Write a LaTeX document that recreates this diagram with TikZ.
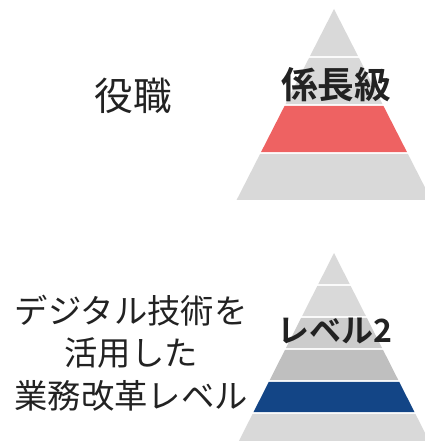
\documentclass[tikz,border=0pt]{standalone}
\usepackage{fontspec}
\newfontfamily\jpfont{Noto Sans CJK JP}
\newfontfamily\jpbold{Noto Sans CJK JP Bold}
\definecolor{pgray}{HTML}{D9D9D9}
\definecolor{pgrayb}{HTML}{CCCCCC}
\definecolor{pgrayc}{HTML}{BFBFBF}
\definecolor{pred}{HTML}{EE6262}
\definecolor{pblue}{HTML}{134586}
\definecolor{ptext}{HTML}{222222}
\newcommand{\pyrband}[6]{\fill[#6] ({#1-#3*(#4-#2)},#4) -- ({#1+#3*(#4-#2)},#4) -- ({#1+#3*(#5-#2)},#5) -- ({#1-#3*(#5-#2)},#5) -- cycle;}
\begin{document}
\begin{tikzpicture}[x=0.75pt,y=-0.75pt,
  lefttext/.style={text=ptext,font=\jpfont\fontsize{25pt}{32pt}\selectfont,align=center,inner sep=0pt},
  boldtitle/.style={text=ptext,inner sep=0pt}]
\useasboundingbox (0,0) rectangle (424,441);
% top pyramid: apex (334,9), slope 0.51
\pyrband{334}{9}{0.51}{9}{56.2}{pgray}
\pyrband{334}{9}{0.51}{57.8}{104.2}{pgray}
\pyrband{334}{9}{0.51}{105.8}{152.2}{pred}
\pyrband{334}{9}{0.51}{153.8}{200}{pgray}
% bottom pyramid: apex (334,253), slope 0.506
\pyrband{334}{253}{0.506}{253}{284.2}{pgray}
\pyrband{334}{253}{0.506}{285.8}{316.2}{pgray}
\pyrband{334}{253}{0.506}{317.8}{348.2}{pgrayb}
\pyrband{334}{253}{0.506}{349.8}{380.2}{pgrayc}
\pyrband{334}{253}{0.506}{381.8}{412.2}{pblue}
\pyrband{334}{253}{0.506}{413.8}{445}{pgray}
\node[boldtitle,font=\jpbold\fontsize{27.5pt}{30pt}\selectfont] (t1) at (336,85) {係長級};
\node[boldtitle,font=\jpbold\fontsize{24pt}{28pt}\selectfont] (t2) at (335,331) {レベル2};
\node[lefttext,font=\jpfont\fontsize{29pt}{32pt}\selectfont] (l1) at (133,96) {役職};
\node[lefttext] (l2) at (131,353) {デジタル技術を\\活用した\\業務改革レベル};
\end{tikzpicture}
\end{document}
